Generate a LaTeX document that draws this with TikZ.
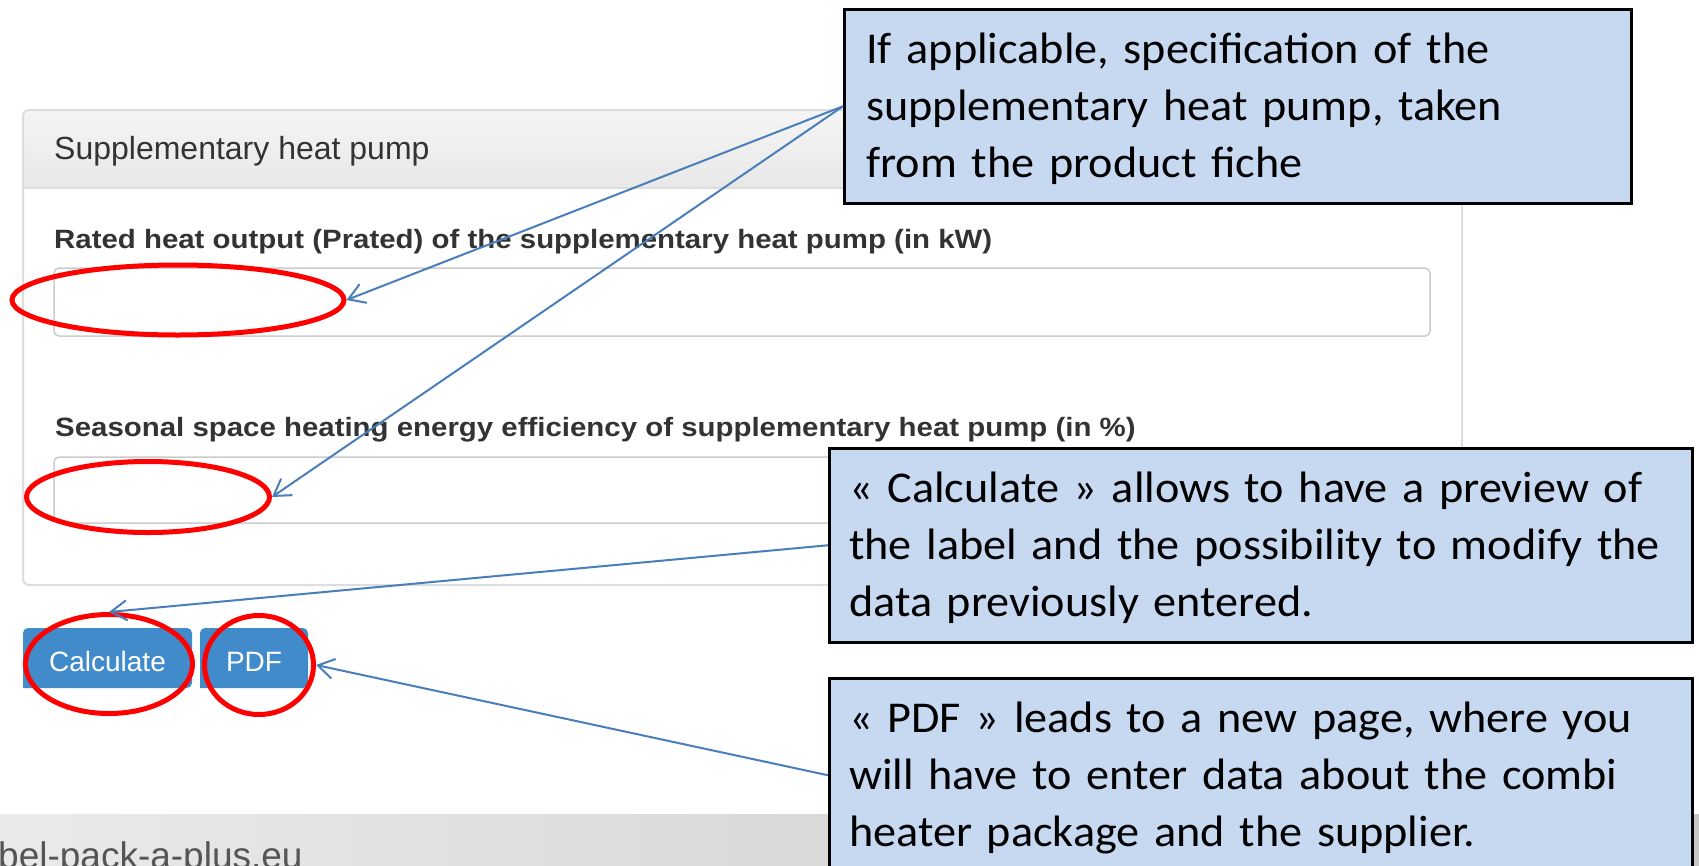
\documentclass[tikz,border=0pt]{standalone}
\usepackage{fontspec}
\setmainfont{Carlito}[FakeStretch=1.05,WordSpace=0.8]
\newfontfamily\webfont{Liberation Sans}
\newfontfamily\weblabelfont[FakeStretch=1.11]{Liberation Sans}
\usetikzlibrary{arrows.meta,shapes.geometric}

\definecolor{calloutfill}{HTML}{C6D9F1}
\definecolor{pointer}{HTML}{4A7EBB}
\definecolor{btnblue}{HTML}{428BCA}
\definecolor{webtext}{HTML}{333333}
\definecolor{webborder}{HTML}{DDDDDD}
\definecolor{fieldborder}{HTML}{CCCCCC}
\definecolor{headtop}{HTML}{F5F5F5}
\definecolor{headbottom}{HTML}{E8E8E8}
\definecolor{footleft}{HTML}{EAEAEA}
\definecolor{footright}{HTML}{C6C6C6}
\definecolor{foottext}{HTML}{555555}
\definecolor{hilite}{HTML}{FF0000}

\tikzset{
  callout/.style={draw=black, line width=2.5pt, fill=calloutfill, anchor=north west,
    align=left, inner ysep=0pt, text height=54pt, text depth=140pt,
    minimum height=194pt, font=\fontsize{44}{57}\selectfont},
  ring/.style={ellipse, draw=hilite, line width=5pt, inner sep=0pt},
  pointerline/.style={draw=pointer, line width=2pt,
    -{Straight Barb[length=16pt,width=20pt]}},
  field/.style={draw=fieldborder, line width=1.5pt, fill=white, rounded corners=5pt},
  webtitle/.style={anchor=base west, inner sep=0pt, text=webtext,
    font=\webfont\fontsize{32}{36}\selectfont},
  fieldlabel/.style={anchor=base west, inner sep=0pt, text=webtext,
    font=\weblabelfont\bfseries\fontsize{26.5}{30}\selectfont},
  btntext/.style={anchor=base, inner sep=0pt, text=white,
    font=\webfont\fontsize{28}{32}\selectfont},
  btnshape/.style={fill=btnblue}
}

\begin{document}
\begin{tikzpicture}[x=1pt,y=-1pt]
\useasboundingbox (0,0) rectangle (1699,865);
\clip (0,0) rectangle (1699,865);
\fill[white] (0,0) rectangle (1699,865);

% form panel with shaded heading
\begin{scope}
  \clip[rounded corners=6pt] (23,110) rectangle (1462,585);
  \shade[top color=headtop, bottom color=headbottom] (23,110) rectangle (1462,188);
\end{scope}
\draw[webborder, line width=2pt] (23,188) -- (1462,188);
\draw[webborder, line width=2pt, rounded corners=6pt] (23,110) rectangle (1462,585);
\node[webtitle] (paneltitle) at (54,159) {Supplementary heat pump};

% input fields
\node[fieldlabel] (label1) at (54,248) {Rated heat output (Prated) of the supplementary heat pump (in kW)};
\draw[field] (54,268) rectangle (1430,336);
\node[fieldlabel] (label2) at (55,436) {Seasonal space heating energy efficiency of supplementary heat pump (in \%)};
\draw[field] (54,457) rectangle (1430,523);

% buttons
\path[btnshape] (23,688) [rounded corners=5pt] -- (23,628) -- (192,628) -- (192,688) [sharp corners] -- cycle;
\path[btnshape] (200,688) [rounded corners=5pt] -- (200,628) -- (308,628) -- (308,688) [sharp corners] -- cycle;
\node[btntext] (calcbtn) at (107.5,671) {Calculate};
\node[btntext] (pdfbtn) at (254,671) {PDF};

% page footer
\shade[left color=footleft, right color=footright] (0,814) rectangle (1699,865);
\node[anchor=base west, inner sep=0pt, text=foottext,
  font=\webfont\fontsize{37}{40}\selectfont] (footer) at (-2,868) {bel-pack-a-plus.eu};

% red highlight rings
\node[ring, minimum width=332pt, minimum height=70pt] (e1) at (178,300) {};
\node[ring, minimum width=243pt, minimum height=71pt] (e2) at (148,497) {};
\node[ring, minimum width=167pt, minimum height=99pt] (e3) at (109,664) {};
\node[ring, minimum width=109pt, minimum height=99pt] (e4) at (259,665) {};

% explanation boxes, one unbreakable line per row
\node[callout, inner xsep=22pt, text width=743pt, minimum width=787pt] (c1) at (843,8)
  {\mbox{If applicable, specification of the}\\
   \mbox{supplementary heat pump, taken}\\
   \mbox{from the product fiche}};
\node[callout, inner xsep=20pt, text width=823pt, minimum width=863pt] (c2) at (828,447)
  {\mbox{« Calculate » allows to have a preview of}\\
   \mbox{the label and the possibility to modify the}\\
   \mbox{data previously entered.}};
\node[callout, inner xsep=20pt, text width=823pt, minimum width=863pt] (c3) at (828,677)
  {\mbox{« PDF » leads to a new page, where you}\\
   \mbox{will have to enter data about the combi}\\
   \mbox{heater package and the supplier.}};

% pointers
\draw[pointerline] (c1.west) -- (e1.east);
\draw[pointerline] (c1.west) -- (e2.east);
\draw[pointerline] (c2.west) -- (e3.north);
\draw[pointerline] (c3.west) -- (e4.east);
\end{tikzpicture}
\end{document}
